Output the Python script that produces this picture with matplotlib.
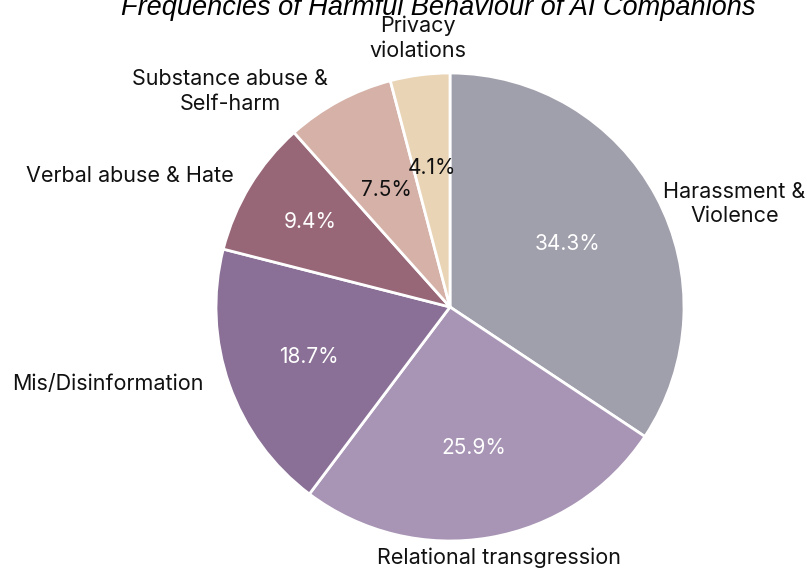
import matplotlib.pyplot as plt
import numpy as np

categories = ["Harassment &\nViolence", "Relational transgression", "Mis/Disinformation",
              "Verbal abuse & Hate", "Substance abuse &\nSelf-harm", "Privacy\nviolations"]
shares = [34.3, 25.9, 18.7, 9.4, 7.5, 4.1]
colors = ["#a09fac", "#a894b4", "#8a7096", "#976777", "#d5b1a7", "#e9d4b6"]
pct_colors = ["white", "white", "white", "white", "#111111", "#111111"]

# where the category names sit, in axes data units (pie radius = 1)
label_pos = [(1.215, 0.44), (0.21, -1.07), (-1.46, -0.33),
             (-1.37, 0.56), (-0.94, 0.92), (-0.137, 1.15)]
pct_dist = [0.57, 0.61, 0.64, 0.70, 0.57, 0.60]

fig = plt.figure(figsize=(8.07, 5.74), dpi=100)
W, H = 807, 574
cx, cy, r = 450, 307, 234
ax = fig.add_axes([(cx - r) / W, (H - cy - r) / H, 2 * r / W, 2 * r / H])

wedges, _ = ax.pie(shares, colors=colors, startangle=90, counterclock=False,
                   wedgeprops=dict(edgecolor="white", linewidth=2))
ax.set_xlim(-1, 1)
ax.set_ylim(-1, 1)
ax.set_aspect("equal")
ax.axis("off")

font = "Inter"
for w, val, d, c in zip(wedges, shares, pct_dist, pct_colors):
    ang = np.deg2rad((w.theta1 + w.theta2) / 2)
    ax.text(d * np.cos(ang), d * np.sin(ang), f"{val}%", ha="center", va="center",
            fontsize=15, color=c, family=font)

for name, (x, y) in zip(categories, label_pos):
    ax.text(x, y, name, ha="center", va="center", fontsize=15.5, color="#111111",
            family=font, linespacing=1.3, clip_on=False)

fig.text(438 / W, 1 - 15 / H, "Frequencies of Harmful Behaviour of AI Companions",
         ha="center", va="baseline", fontsize=19.5, style="italic",
         family="Liberation Sans")

fig.savefig("out.png", dpi=100)
